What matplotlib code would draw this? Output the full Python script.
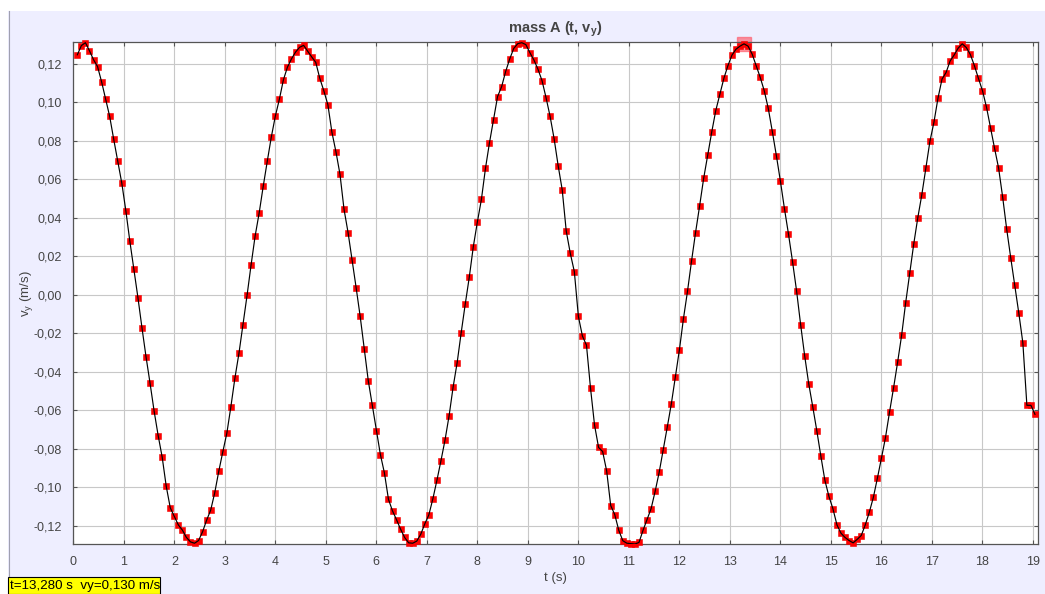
import numpy as np
import matplotlib
matplotlib.use("Agg")
import matplotlib.pyplot as plt
from matplotlib.patches import Rectangle
from matplotlib.lines import Line2D
from matplotlib.ticker import FuncFormatter, MultipleLocator
from matplotlib import font_manager

names = {f.name for f in font_manager.fontManager.ttflist}
narrow = 'Liberation Sans Narrow' if 'Liberation Sans Narrow' in names else 'Liberation Sans'

plt.rcParams['font.family'] = [narrow, 'DejaVu Sans']
plt.rcParams['mathtext.fontset'] = 'custom'
plt.rcParams['mathtext.rm'] = narrow
plt.rcParams['mathtext.bf'] = narrow + ':bold'

# ---- data ----
frame_dt = 0.08          # time step between tracked frames (s)
n_frames = 238
t = np.round(np.arange(1, n_frames + 1) * frame_dt, 2)

vy = [
    0.1247, 0.1295, 0.1310, 0.1268, 0.1222, 0.1186, 0.1107, 0.1017, 0.0927, 0.0808,
    0.0693, 0.0580, 0.0437, 0.0277, 0.0132, -0.0016, -0.0173, -0.0323, -0.0461, -0.0605,
    -0.0732, -0.0845, -0.0996, -0.1108, -0.1152, -0.1197, -0.1224, -0.1262, -0.1285, -0.1292,
    -0.1278, -0.1232, -0.1172, -0.1120, -0.1030, -0.0918, -0.0817, -0.0720, -0.0582, -0.0433,
    -0.0304, -0.0155, -0.0004, 0.0155, 0.0305, 0.0425, 0.0563, 0.0693, 0.0819, 0.0928,
    0.1016, 0.1117, 0.1183, 0.1226, 0.1261, 0.1286, 0.1296, 0.1266, 0.1236, 0.1208,
    0.1125, 0.1060, 0.0988, 0.0845, 0.0743, 0.0626, 0.0444, 0.0323, 0.0181, 0.0036,
    -0.0113, -0.0281, -0.0447, -0.0575, -0.0706, -0.0831, -0.0927, -0.1064, -0.1124, -0.1170,
    -0.1219, -0.1262, -0.1290, -0.1292, -0.1281, -0.1245, -0.1191, -0.1144, -0.1060, -0.0964,
    -0.0862, -0.0755, -0.0630, -0.0480, -0.0353, -0.0197, -0.0049, 0.0091, 0.0250, 0.0378,
    0.0495, 0.0656, 0.0790, 0.0909, 0.1030, 0.1081, 0.1160, 0.1225, 0.1280, 0.1305,
    0.1310, 0.1300, 0.1258, 0.1220, 0.1172, 0.1113, 0.1024, 0.0927, 0.0810, 0.0670,
    0.0545, 0.0330, 0.0215, 0.0120, -0.0113, -0.0215, -0.0262, -0.0485, -0.0678, -0.0794,
    -0.0815, -0.0916, -0.1096, -0.1143, -0.1225, -0.1279, -0.1292, -0.1294, -0.1296, -0.1288,
    -0.1225, -0.1169, -0.1112, -0.1022, -0.0923, -0.0807, -0.0688, -0.0568, -0.0429, -0.0287,
    -0.0125, 0.0017, 0.0174, 0.0323, 0.0461, 0.0604, 0.0726, 0.0845, 0.0957, 0.1041,
    0.1124, 0.1190, 0.1245, 0.1276, 0.1292, 0.1304, 0.1292, 0.1251, 0.1190, 0.1130,
    0.1060, 0.0968, 0.0848, 0.0723, 0.0590, 0.0447, 0.0315, 0.0172, 0.0020, -0.0155,
    -0.0317, -0.0462, -0.0582, -0.0706, -0.0838, -0.0964, -0.1048, -0.1113, -0.1197, -0.1240,
    -0.1262, -0.1278, -0.1290, -0.1272, -0.1252, -0.1197, -0.1131, -0.1054, -0.0954, -0.0850,
    -0.0743, -0.0611, -0.0485, -0.0352, -0.0211, -0.0042, 0.0113, 0.0264, 0.0400, 0.0520,
    0.0658, 0.0797, 0.0897, 0.1022, 0.1121, 0.1155, 0.1215, 0.1246, 0.1282, 0.1304,
    0.1285, 0.1249, 0.1191, 0.1125, 0.1061, 0.0975, 0.0868, 0.0761, 0.0658, 0.0508,
    0.0341, 0.0192, 0.0048, -0.0096, -0.0250, -0.0575, -0.0575, -0.0622,
]

selected_t = 13.28
selected_vy = 0.1304
readout = "t=13,280 s  vy=0,130 m/s"
title = "mass A (t, v$_\\mathbf{y}$)"
xlabel = "t (s)"
ylabel = "v$_\\mathregular{y}$ (m/s)"

# ---- figure ----
W, H = 1045, 594
fig = plt.figure(figsize=(W / 100, H / 100), dpi=100)
fig.patch.set_facecolor('white')

# lavender panel
fig.patches.append(Rectangle((8 / W, 0), 1 - 8 / W, 1 - 11 / H, transform=fig.transFigure,
                             facecolor='#EEEEFF', edgecolor='none', zorder=-10))
fig.lines.append(Line2D([8.5 / W, 8.5 / W], [0, 1 - 11 / H], transform=fig.transFigure,
                        color='#A0A0B0', lw=0.8))

left, right = 73.3 / W, 1038 / W
top, bottom = 1 - 42.3 / H, 1 - 544 / H
ax = fig.add_axes([left, bottom, right - left, top - bottom])
ax.set_facecolor('white')

ax.plot([selected_t], [selected_vy], marker='s', ms=9.5, color='#FF5060', alpha=0.6,
        ls='none', zorder=2, clip_on=False)
ax.plot(t, vy, ls='none', marker='s', ms=4.0, mfc='#FF0000', mec='#F00000', mew=0.4,
        zorder=3, clip_on=False)
ax.plot(t, vy, color='black', lw=0.85, zorder=4)

ax.set_xlim(0, 19.10)
ax.set_ylim(-0.1296, 0.1312)
ax.xaxis.set_major_locator(MultipleLocator(1))
ax.yaxis.set_major_locator(MultipleLocator(0.02))
ax.xaxis.set_major_formatter(FuncFormatter(lambda v, p: f"{v:.0f}"))
ax.yaxis.set_major_formatter(FuncFormatter(
    lambda v, p: f"{v:.2f}".replace('.', ',').replace('-0,00', '0,00')))

ax.grid(True, color='#C8C8C8', lw=0.8, zorder=0)
ax.set_axisbelow(True)
for s in ax.spines.values():
    s.set_color('#555555')
    s.set_linewidth(0.9)
ax.tick_params(which='both', direction='in', length=3, width=0.8, color='#555555',
               top=True, right=True, labelsize=9, labelcolor='#444444')
ax.tick_params(axis='x', pad=8.5)
ax.tick_params(axis='y', pad=8)

ax.set_title(title, fontsize=10.5, fontweight='bold', color='#444444', pad=7)
ax.set_xlabel(xlabel, fontsize=9.5, color='#444444')
ax.set_ylabel(ylabel, fontsize=9.5, color='#444444')
ax.xaxis.set_label_coords(0.5, -0.055)
ax.yaxis.set_label_coords(-0.040, 0.5)

# yellow readout box
fig.patches.append(Rectangle((8 / W, 0.5 / H), 152 / W, 17 / H, transform=fig.transFigure,
                             facecolor='#FFFF00', edgecolor='black', lw=0.8, zorder=5))
fig.text(10 / W, 1 - 586 / H, readout, fontsize=9.6, color='black', va='center', ha='left',
         family=['Liberation Sans', 'DejaVu Sans'], zorder=6)

fig.savefig('out.png', dpi=100)
